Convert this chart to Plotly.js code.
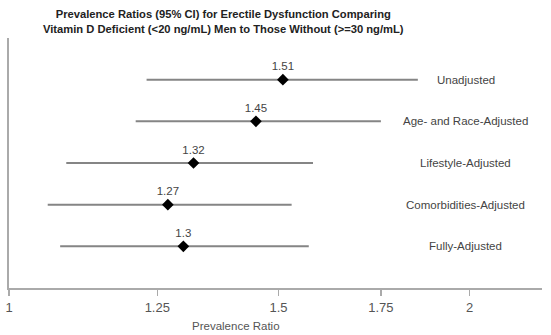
<!DOCTYPE html>
<html>
<head>
<meta charset="utf-8">
<script src="https://cdn.plot.ly/plotly-3.0.1.min.js"></script>
<style>html,body{margin:0;padding:0;background:#fff;}#chart{width:551px;height:335px;}</style>
</head>
<body>
<div id="chart"></div>
<script>
var models = ["Unadjusted", "Age- and Race-Adjusted", "Lifestyle-Adjusted", "Comorbidities-Adjusted", "Fully-Adjusted"];
var estimates = [1.51, 1.45, 1.32, 1.27, 1.30];
var lowerCI = [1.23, 1.21, 1.09, 1.06, 1.08];
var upperCI = [1.85, 1.75, 1.58, 1.53, 1.57];
var estLabels = ["1.51", "1.45", "1.32", "1.27", "1.3"];
var rowPos = [5, 4, 3, 2, 1];
var xTicks = [1, 1.25, 1.5, 1.75, 2];
var xTickLabels = ["1", "1.25", "1.5", "1.75", "2"];

var FONT = "Liberation Sans, Arial, sans-serif";

var trace = {
  type: "scatter",
  mode: "markers+text",
  x: estimates,
  y: rowPos,
  text: estLabels,
  textposition: "top center",
  textfont: {family: FONT, size: 11.5, color: "#444"},
  marker: {symbol: "diamond", size: 9, color: "#000"},
  error_x: {
    type: "data",
    symmetric: false,
    array: estimates.map(function(v, i){ return upperCI[i] - v; }),
    arrayminus: estimates.map(function(v, i){ return v - lowerCI[i]; }),
    color: "#858585",
    thickness: 2,
    width: 0
  },
  hoverinfo: "skip",
  cliponaxis: false
};

var annotations = models.map(function(m, i){
  return {
    xref: "paper", yref: "y",
    x: 0.857, y: rowPos[i],
    text: m, showarrow: false,
    xanchor: "center", yanchor: "middle",
    font: {family: FONT, size: 11.5, color: "#444"}
  };
});
annotations.push({
  xref: "paper", yref: "paper",
  x: 0.426, y: -0.15,
  text: "Prevalence Ratio", showarrow: false,
  xanchor: "center", yanchor: "middle",
  font: {family: FONT, size: 11.5, color: "#555"}
});
annotations.push({
  xref: "paper", yref: "paper",
  x: (223 - 9) / 533, y: 1 + (38 - 21.5) / 250,
  text: "<b>Prevalence Ratios (95% CI) for Erectile Dysfunction Comparing<br>Vitamin D Deficient (<20 ng/mL) Men to Those Without (>=30 ng/mL)</b>",
  showarrow: false,
  xanchor: "center", yanchor: "middle", align: "center",
  font: {family: FONT, size: 11.2, color: "#222"}
});

var layout = {
  width: 551, height: 335,
  margin: {l: 9, r: 9, t: 38, b: 47},
  paper_bgcolor: "#fff", plot_bgcolor: "#fff",
  showlegend: false,
  xaxis: {
    type: "log",
    range: [0, Math.log10(2.23)],
    tickvals: xTicks, ticktext: xTickLabels,
    ticks: "outside", ticklen: 6, tickcolor: "#aaa", tickwidth: 1.5,
    ticklabelstandoff: 0,
    showline: true, linecolor: "#aaa", linewidth: 2,
    showgrid: false, zeroline: false,
    tickfont: {family: FONT, size: 13, color: "#555"},
    fixedrange: true
  },
  yaxis: {
    range: [0, 6],
    showline: true, linecolor: "#aaa", linewidth: 2,
    showgrid: false, zeroline: false,
    showticklabels: false, ticks: "",
    fixedrange: true
  },
  annotations: annotations
};

Plotly.newPlot("chart", [trace], layout, {displayModeBar: false, staticPlot: true});
</script>
</body>
</html>
